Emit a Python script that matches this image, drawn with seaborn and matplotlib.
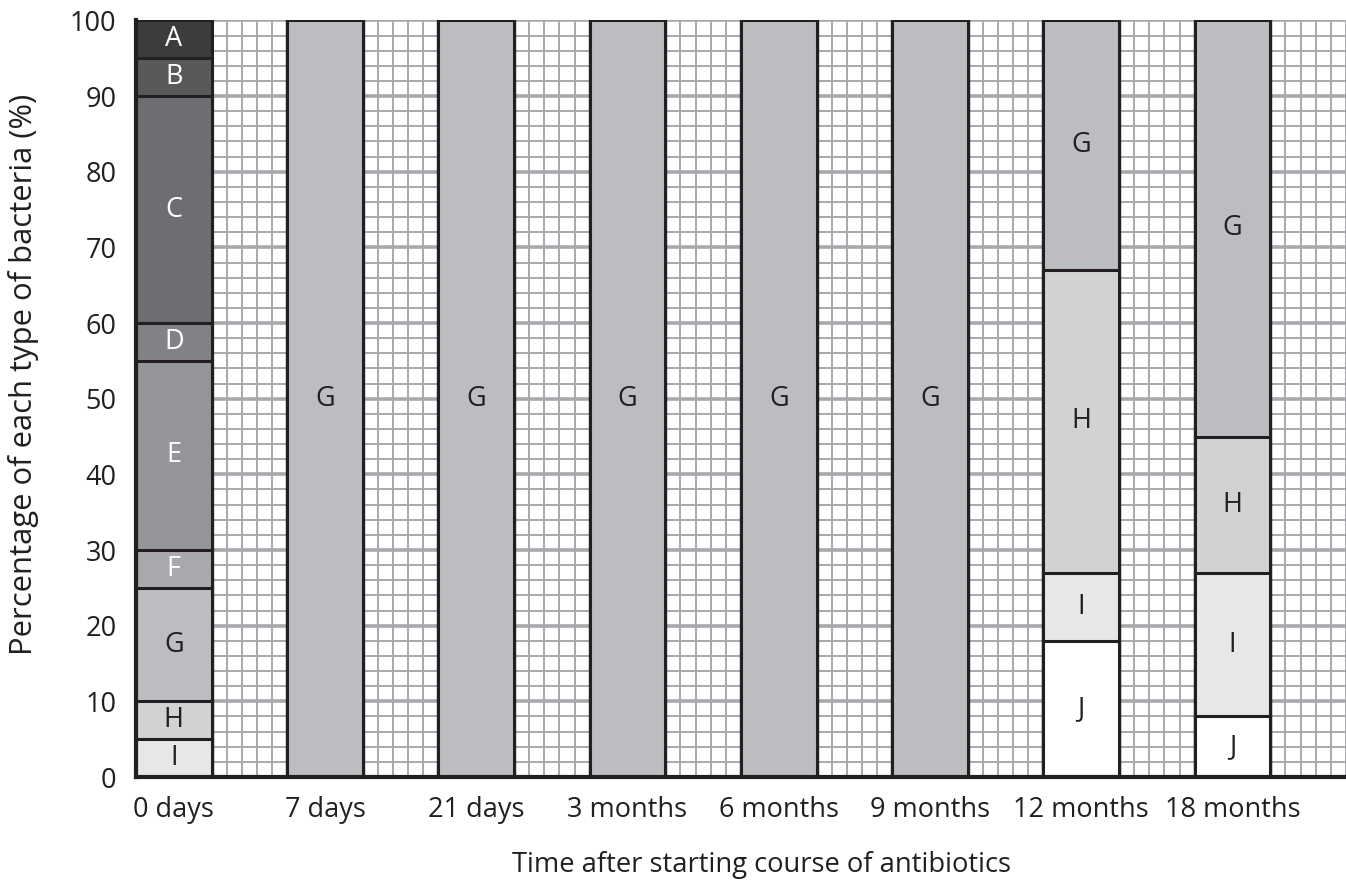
import numpy as np
import pandas as pd
import matplotlib.pyplot as plt
from matplotlib.ticker import FixedLocator, MultipleLocator
import seaborn as sns

# data (percent of each type, bottom -> top)
times = ["0 days", "7 days", "21 days", "3 months", "6 months", "9 months", "12 months", "18 months"]
types_bottom_up = ["J", "I", "H", "G", "F", "E", "D", "C", "B", "A"]
J = [0, 0, 0, 0, 0, 0, 18, 8]
I = [5, 0, 0, 0, 0, 0, 9, 19]
H = [5, 0, 0, 0, 0, 0, 40, 18]
G = [15, 100, 100, 100, 100, 100, 33, 55]
F = [5, 0, 0, 0, 0, 0, 0, 0]
E = [25, 0, 0, 0, 0, 0, 0, 0]
D = [5, 0, 0, 0, 0, 0, 0, 0]
C = [30, 0, 0, 0, 0, 0, 0, 0]
B = [5, 0, 0, 0, 0, 0, 0, 0]
A = [5, 0, 0, 0, 0, 0, 0, 0]
values = {"J": J, "I": I, "H": H, "G": G, "F": F, "E": E, "D": D, "C": C, "B": B, "A": A}

colors = {"A": "#3c3c3d", "B": "#58595b", "C": "#6d6e71", "D": "#808285", "E": "#939598",
          "F": "#a7a9ac", "G": "#bcbdc0", "H": "#d1d2d4", "I": "#e6e7e8", "J": "#ffffff"}
text_colors = {t: ("white" if t in "ABCDEF" else "#231f20") for t in colors}

# cumulative tops, so bars can be layered from the top type down
rows = []
for i, tm in enumerate(times):
    cum = 0
    for t in types_bottom_up:
        v = values[t][i]
        rows.append({"time": tm, "type": t, "value": v, "bottom": cum, "top": cum + v})
        cum += v
df = pd.DataFrame(rows)

ink = "#231f20"
sns.set_style("white")
plt.rcParams["font.family"] = ["Open Sans", "DejaVu Sans"]

fig = plt.figure(figsize=(13.46, 8.86), dpi=100)
ax = fig.add_axes([0.101, 0.123, 0.899, 0.854])

hue_order = types_bottom_up[::-1]  # A drawn first, J last
sns.barplot(data=df, x="time", y="top", hue="type", order=times, hue_order=hue_order,
            palette=colors, dodge=False, width=0.5, edgecolor=ink, linewidth=2.2,
            saturation=1, legend=False, ax=ax)

# segment labels
for _, r in df.iterrows():
    if r["value"] > 0:
        ax.text(times.index(r["time"]), r["bottom"] + r["value"] / 2, r["type"],
                ha="center", va="center", fontsize=19.5, color=text_colors[r["type"]], zorder=5)

# graph-paper grid
ax.set_xlim(-0.25, 7.75)
ax.set_ylim(0, 100)
ax.set_axisbelow(True)
ax.yaxis.set_major_locator(MultipleLocator(10))
ax.yaxis.set_minor_locator(MultipleLocator(2))
ax.xaxis.set_minor_locator(FixedLocator(np.arange(-0.25, 7.8, 0.1)))
ax.grid(which="major", axis="y", color="#a7a9ac", linewidth=2.6)
ax.grid(which="minor", axis="both", color="#a7a9ac", linewidth=1.4)
ax.grid(which="major", axis="x", visible=False)

for s in ["top", "right"]:
    ax.spines[s].set_visible(False)
for s in ["left", "bottom"]:
    ax.spines[s].set_color(ink)
    ax.spines[s].set_linewidth(3)

ax.tick_params(axis="y", which="major", length=11, width=2, color=ink, labelsize=19.5, labelcolor=ink, pad=3)
ax.tick_params(axis="y", which="minor", length=0)
ax.tick_params(axis="x", which="both", length=0, labelsize=19.5, labelcolor=ink, pad=14)

ax.set_xlabel("Time after starting course of antibiotics", fontsize=19.7, color=ink, va="center")
ax.set_ylabel("Percentage of each type of bacteria (%)", fontsize=22.3, color=ink, va="center")
ax.xaxis.set_label_coords(0.517, -0.116)
ax.yaxis.set_label_coords(-0.093, 0.532)

fig.savefig("out.png", dpi=100)
